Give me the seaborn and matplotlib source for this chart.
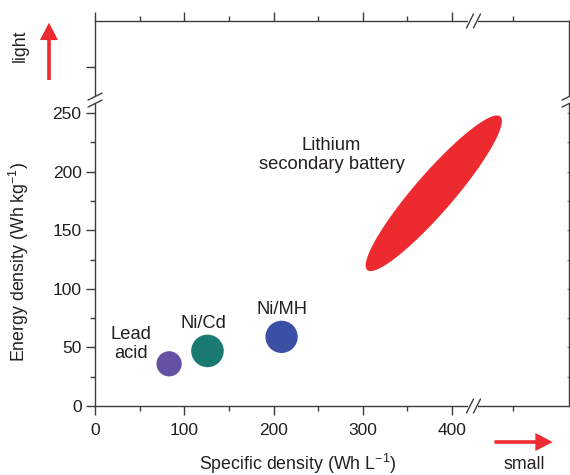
import numpy as np
import pandas as pd
import matplotlib
matplotlib.use("Agg")
import matplotlib.pyplot as plt
import matplotlib.transforms as mtransforms
from matplotlib.patches import FancyArrowPatch
import seaborn as sns

# Battery chemistries: volumetric vs. gravimetric energy density
chemistries = ["Lead acid", "Ni/Cd", "Ni/MH"]
specific_density = [83, 126, 209]      # Wh L^-1
energy_density = [36, 47, 59]          # Wh kg^-1

# Lithium secondary battery region, given by its two extreme corners
lithium_specific = [305, 454]          # Wh L^-1
lithium_energy = [116, 247]            # Wh kg^-1

# Axis ticks
x_major = [0, 100, 200, 300, 400]
x_minor = [50, 150, 250, 350]
y_major = [0, 50, 100, 150, 200, 250]
y_minor = [25, 75, 125, 175, 225]
y_right = [25, 50, 75, 100, 125, 150, 175, 200, 225, 250]

# Axis breaks and the ticks placed beyond them
x_break = 424
y_break = 261
x_beyond = 468
y_beyond = 289

# ---- styling -------------------------------------------------------------
ink = "#231f20"
spine_color = "#3c3c3c"
red = "#ed2a2f"
palette = {"Lead acid": "#6650a4", "Ni/Cd": "#1a7a72", "Ni/MH": "#3b4fa5"}
marker_area = {"Lead acid": 330, "Ni/Cd": 550, "Ni/MH": 540}
label_text = {"Lead acid": "Lead\nacid", "Ni/Cd": "Ni/Cd", "Ni/MH": "Ni/MH"}
# (x, baseline of last line) in data units
label_pos = {"Lead acid": (40, 41), "Ni/Cd": (122, 66.6), "Ni/MH": (209, 78.5)}
lithium_label_pos = (265, 202)
fs_tick = 12.5
fs_label = 13.2
fs_title = 12.8

sns.set_style("ticks")
plt.rcParams["font.family"] = ["Liberation Sans", "DejaVu Sans"]
plt.rcParams["mathtext.fontset"] = "custom"
plt.rcParams["mathtext.rm"] = "Liberation Sans"
plt.rcParams["mathtext.it"] = "Liberation Sans:italic"
plt.rcParams["mathtext.bf"] = "Liberation Sans:bold"

fig = plt.figure(figsize=(5.7, 4.75), dpi=100)
ax = fig.add_axes([95 / 570, 1 - 406 / 475, 474 / 570, 385 / 475])
ax.set_xlim(0, 531)
ax.set_ylim(0, 328.5)

df = pd.DataFrame({
    "chemistry": chemistries,
    "specific": specific_density,
    "energy": energy_density,
})
sns.scatterplot(data=df, x="specific", y="energy", hue="chemistry",
                palette=palette, size="chemistry", sizes=marker_area,
                linewidth=0, legend=False, ax=ax, zorder=3)

# Lithium region drawn as an elongated ellipse between its extremes
p0 = ax.transData.transform((lithium_specific[0], lithium_energy[0]))
p1 = ax.transData.transform((lithium_specific[1], lithium_energy[1]))
centre = (p0 + p1) / 2
half_major = (p1 - p0) / 2
u_hat = half_major / np.hypot(*half_major)
v_hat = np.array([-u_hat[1], u_hat[0]])
half_minor = 19.5 * fig.dpi / 100
t = np.linspace(0, 2 * np.pi, 240)
outline = centre + np.outer(np.cos(t), half_major) + np.outer(np.sin(t), v_hat * half_minor)
outline = ax.transData.inverted().transform(outline)
ax.fill(outline[:, 0], outline[:, 1], color=red, lw=0, zorder=2)

# Labels
for chem in chemistries:
    x, y = label_pos[chem]
    ax.text(x, y, label_text[chem], ha="center", va="baseline",
            fontsize=fs_label, color=ink, linespacing=1.15)
ax.text(*lithium_label_pos, "Lithium\nsecondary battery", ha="center",
        va="baseline", fontsize=fs_label, color=ink, linespacing=1.15)

# Ticks
ax.set_xticks(x_major, labels=[str(v) for v in x_major])
ax.set_xticks(x_minor + [x_beyond], minor=True)
ax.set_yticks(y_major + [y_beyond], labels=[str(v) for v in y_major] + [""])
ax.set_yticks(y_minor, minor=True)
ax.tick_params(axis="both", which="major", length=6.2, width=1,
               direction="out", color=spine_color, labelsize=fs_tick,
               labelcolor=ink)
ax.tick_params(axis="both", which="minor", length=3.4, width=1,
               direction="out", color=spine_color)
ax.tick_params(axis="x", which="both", top=True, labeltop=False, pad=6)
ax.tick_params(axis="y", which="major", pad=3.5)

right = ax.secondary_yaxis("right")
right.set_yticks(y_right, labels=[""] * len(y_right))
right.tick_params(direction="in", length=1.5, width=0.8, color="#777777")
right.spines["right"].set_visible(False)

for s in ax.spines.values():
    s.set_color(spine_color)
    s.set_linewidth(1.0)

# Axis titles
ax.set_xlabel("Specific density (Wh L$^{\u22121}$)", fontsize=fs_title,
              color=ink, va="baseline")
ax.xaxis.set_label_coords((298 - 95) / 474, (406 - 470) / 385)
ax.set_ylabel("Energy density (Wh kg$^{\u22121}$)", fontsize=fs_title,
              color=ink, va="center")
ax.yaxis.set_label_coords((19 - 95) / 474, (406 - 262) / 385)

# Direction hints
ax.text((20 - 95) / 474, (406 - 46) / 385, "light", rotation=90, ha="center",
        va="center", fontsize=fs_title, color=ink, transform=ax.transAxes)
ax.text((524.5 - 95) / 474, (406 - 469) / 385, "small", ha="center",
        va="baseline", fontsize=fs_title, color=ink, transform=ax.transAxes)
arrow_kw = dict(arrowstyle="simple,head_length=1.25,head_width=1.3,tail_width=0.26",
                mutation_scale=10, color=red, lw=0, shrinkA=0, shrinkB=0,
                transform=ax.transAxes, clip_on=False)
ax.add_patch(FancyArrowPatch(((49 - 95) / 474, (406 - 80) / 385),
                             ((49 - 95) / 474, (406 - 22.7) / 385), **arrow_kw))
ax.add_patch(FancyArrowPatch(((494.5 - 95) / 474, (406 - 442) / 385),
                             ((552.7 - 95) / 474, (406 - 442) / 385), **arrow_kw))

# Axis break marks
ident = mtransforms.IdentityTransform()
s = fig.dpi / 100


def spine_break(xy, vertical):
    px, py = ax.transData.transform(xy)
    if vertical:
        gap = ([px, px], [py - 4 * s, py + 4 * s])
        marks = [([px - 7 * s, px + 7 * s], [py + d - 3.5 * s, py + d + 3.5 * s])
                 for d in (-3.5 * s, 3.5 * s)]
    else:
        gap = ([px - 5 * s, px + 5 * s], [py, py])
        marks = [([px + d - 3.5 * s, px + d + 3.5 * s], [py - 7 * s, py + 7 * s])
                 for d in (-3.5 * s, 3.5 * s)]
    ax.plot(*gap, color="white", lw=3, solid_capstyle="butt", transform=ident,
            clip_on=False, zorder=5)
    for mx, my in marks:
        ax.plot(mx, my, color=spine_color, lw=1, transform=ident,
                clip_on=False, zorder=6)


xlo, xhi = ax.get_xlim()
ylo, yhi = ax.get_ylim()
spine_break((xlo, y_break), vertical=True)
spine_break((xhi, y_break), vertical=True)
spine_break((x_break, ylo), vertical=False)
spine_break((x_break, yhi), vertical=False)

fig.savefig("out.png", dpi=100)
